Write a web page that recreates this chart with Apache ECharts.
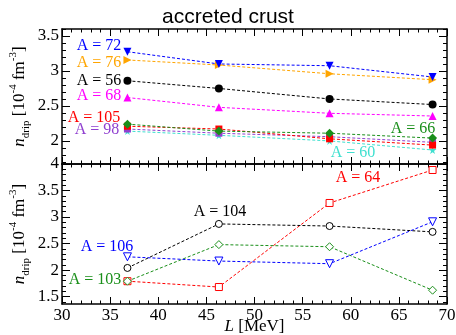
<!DOCTYPE html>
<html>
<head>
<meta charset="utf-8">
<script src="https://cdn.jsdelivr.net/npm/echarts@6/dist/echarts.min.js"></script>
<style>html,body{margin:0;padding:0;background:#fff}#c{width:456px;height:335px}</style>
</head>
<body>
<div id="c"></div>
<script>
// ---------- data ----------
const L = [36.8, 46.3, 57.8, 68.5];
// upper panel (filled markers)
const topA72  = [3.275, 3.10, 3.075, 2.914];
const topA76  = [3.157, 3.085, 2.96, 2.875];
const topA56  = [2.86, 2.75, 2.60, 2.52];
const topA68  = [2.62, 2.48, 2.395, 2.356];
const topA66  = [2.24, 2.14, 2.11, 2.04];
const topA105 = [2.21, 2.17, 2.03, 1.94];
const topA98  = [2.17, 2.11, 2.06, 1.98];
const topA60  = [2.14, 2.08, 2.00, 1.87];
// lower panel (open markers)
const botA64  = [1.79, 1.68, 3.265, 3.887];
const botA104 = [2.04, 2.87, 2.83, 2.72];
const botA103 = [1.79, 2.48, 2.44, 1.62];
const botA106 = [2.25, 2.17, 2.12, 2.91];
// ticks
const xTicks = [30, 35, 40, 45, 50, 55, 60, 65, 70];
const topYLabels = [2, 2.5, 3, 3.5];
const botYLabels = [1.5, 2, 2.5, 3, 3.5, 4];
const topYRange = [1.67, 3.6];
const botYRange = [1.36, 4.0];
// annotation labels: [text, color, panel, L, n]
const annotations = [
  ['A = 72', '#0000ff', 0, 33.84, 3.357],
  ['A = 76', '#ffa500', 0, 33.84, 3.121],
  ['A = 56', '#000000', 0, 33.84, 2.864],
  ['A = 68', '#ff00ff', 0, 33.84, 2.649],
  ['A = 105', '#ff0000', 0, 33.32, 2.328],
  ['A = 98', '#9040d0', 0, 33.64, 2.156],
  ['A = 66', '#1a8f1a', 0, 66.47, 2.17],
  ['A = 60', '#40e0d0', 0, 60.23, 1.827],
  ['A = 64', '#ff0000', 1, 60.75, 3.736],
  ['A = 104', '#000000', 1, 46.42, 3.095],
  ['A = 106', '#0000ff', 1, 34.68, 2.435],
  ['A = 103', '#1a8f1a', 1, 33.43, 1.81]
];

const SERIF = '"Liberation Serif", "DejaVu Serif", serif';
const STAR = 'path://M50,0 L61,35 L98,35 L68,57 L79,91 L50,70 L21,91 L32,57 L2,35 L39,35 Z';

function minorList(min, max, majors) {
  const out = [];
  const start = Math.ceil(min * 10 - 1e-6), end = Math.floor(max * 10 + 1e-6);
  for (let k = start; k <= end; k++) {
    const v = Math.round(k) / 10;
    if (!majors.some(m => Math.abs(m - v) < 1e-6)) out.push(v);
  }
  return out;
}

const chart = echarts.init(document.getElementById('c'), null, {renderer: 'canvas'});

const G_TOP = {left: 62, width: 385, top: 29, height: 135};
const G_BOT = {left: 62, width: 385, top: 164, height: 140};
const grids = [G_TOP, G_BOT, G_TOP, G_BOT].map(g => Object.assign({containLabel: false, outerBoundsMode: 'none'}, g));

const lineAx = {show: true, lineStyle: {color: '#000', width: 1.5}};
function xAx(gridIndex, position, showLabels, withName) {
  return {
    type: 'value', gridIndex, position, min: 30, max: 70, interval: 5,
    axisLine: lineAx,
    axisTick: {show: true, inside: true, length: 7, lineStyle: {color: '#000', width: 1}},
    minorTick: {show: true, splitNumber: 5, length: 3.5, lineStyle: {color: '#000', width: 1}},
    splitLine: {show: false},
    axisLabel: {show: showLabels, fontFamily: SERIF, fontSize: 17, color: '#000', margin: 3},
    name: withName ? '{i|L}{t| [MeV]}' : '',
    nameLocation: 'middle', nameGap: 14, nameMoveOverlap: false,
    nameTextStyle: {rich: {
      i: {fontFamily: SERIF, fontSize: 17, fontStyle: 'italic', color: '#000'},
      t: {fontFamily: SERIF, fontSize: 17, color: '#000'}
    }}
  };
}
function yMain(gridIndex, position, range, labels, withName) {
  return {
    type: 'value', gridIndex, position, min: range[0], max: range[1],
    axisLine: lineAx,
    axisTick: {show: true, inside: true, length: 8, customValues: labels, lineStyle: {color: '#000', width: 1}},
    splitLine: {show: false},
    axisLabel: {show: withName, customValues: labels, fontFamily: SERIF, fontSize: 17, color: '#000', margin: 3},
    name: withName ? '{i|n}{sub|drip}{t| [10}{sup|-4}{t| fm}{sup|-3}{t|]}' : '',
    nameLocation: 'middle', nameGap: 30, nameRotate: 90, nameMoveOverlap: false,
    nameTextStyle: {rich: {
      i: {fontFamily: SERIF, fontSize: 17, fontStyle: 'italic', color: '#000', lineHeight: 24, verticalAlign: 'middle'},
      t: {fontFamily: SERIF, fontSize: 17, color: '#000', lineHeight: 24, verticalAlign: 'middle'},
      sub: {fontFamily: SERIF, fontSize: 11, color: '#000', lineHeight: 24, verticalAlign: 'bottom'},
      sup: {fontFamily: SERIF, fontSize: 11, color: '#000', lineHeight: 24, verticalAlign: 'top'}
    }}
  };
}
function yMinor(gridIndex, position, range, labels) {
  return {
    type: 'value', gridIndex, position, min: range[0], max: range[1],
    axisLine: {show: false},
    axisTick: {show: true, inside: true, length: 4, customValues: minorList(range[0], range[1], labels), lineStyle: {color: '#000', width: 1}},
    splitLine: {show: false},
    axisLabel: {show: false}
  };
}

const xAxis = [
  xAx(0, 'bottom', false, false),
  xAx(0, 'top', false, false),
  xAx(1, 'bottom', true, true),
  xAx(1, 'top', false, false),
  {type: 'value', gridIndex: 2, min: 30, max: 70, show: false},
  {type: 'value', gridIndex: 3, min: 30, max: 70, show: false}
];
const yAxis = [
  yMain(0, 'left', topYRange, topYLabels, true),
  yMain(0, 'right', topYRange, topYLabels, false),
  yMain(1, 'left', botYRange, botYLabels, true),
  yMain(1, 'right', botYRange, botYLabels, false),
  yMinor(2, 'left', topYRange, topYLabels),
  yMinor(2, 'right', topYRange, topYLabels),
  yMinor(3, 'left', botYRange, botYLabels),
  yMinor(3, 'right', botYRange, botYLabels)
];

function pts(vals) { return L.map((x, i) => [x, vals[i]]); }
function filled(vals, color, symbol, size, rotate) {
  return {
    type: 'line', xAxisIndex: 0, yAxisIndex: 0, data: pts(vals),
    symbol, symbolSize: size, symbolRotate: rotate || 0, showAllSymbol: true,
    lineStyle: {color, width: 1, type: [3, 2]},
    itemStyle: {color, borderWidth: 0}, silent: true, animation: false
  };
}
function open(vals, color, symbol, size, rotate) {
  return {
    type: 'line', xAxisIndex: 2, yAxisIndex: 2, data: pts(vals),
    symbol, symbolSize: size, symbolRotate: rotate || 0, showAllSymbol: true,
    lineStyle: {color, width: 1, type: [3, 2]},
    itemStyle: {color: '#fff', borderColor: color, borderWidth: 1}, silent: true, animation: false
  };
}

const series = [
  filled(topA60, '#40e0d0', STAR, 8),
  filled(topA98, '#9040d0', 'rect', 7),
  filled(topA105, '#ff0000', 'rect', 7),
  filled(topA66, '#1a8f1a', 'diamond', 9),
  filled(topA68, '#ff00ff', 'triangle', 8),
  filled(topA56, '#000000', 'circle', 8),
  filled(topA76, '#ffa500', 'triangle', 8, -90),
  filled(topA72, '#0000ff', 'triangle', 8, 180),
  open(botA64, '#ff0000', 'rect', 7),
  open(botA104, '#000000', 'circle', 7),
  open(botA103, '#1a8f1a', 'diamond', 8),
  open(botA106, '#0000ff', 'triangle', 8, 180)
];

chart.setOption({
  animation: false,
  backgroundColor: '#fff',
  title: {text: 'accreted crust', left: 'center', top: 2,
    textStyle: {fontFamily: '"Liberation Sans", Arial, sans-serif', fontSize: 21, fontWeight: 'normal', color: '#000'}},
  grid: grids, xAxis, yAxis, series
});

const graphic = annotations.map(a => {
  const p = chart.convertToPixel({gridIndex: a[2]}, [a[3], a[4]]);
  return {type: 'text', x: p[0], y: p[1], silent: true, z: 100,
    style: {text: a[0], fill: a[1], font: '16px ' + SERIF, align: 'center', verticalAlign: 'middle'}};
});
chart.setOption({graphic});
</script>
</body>
</html>
